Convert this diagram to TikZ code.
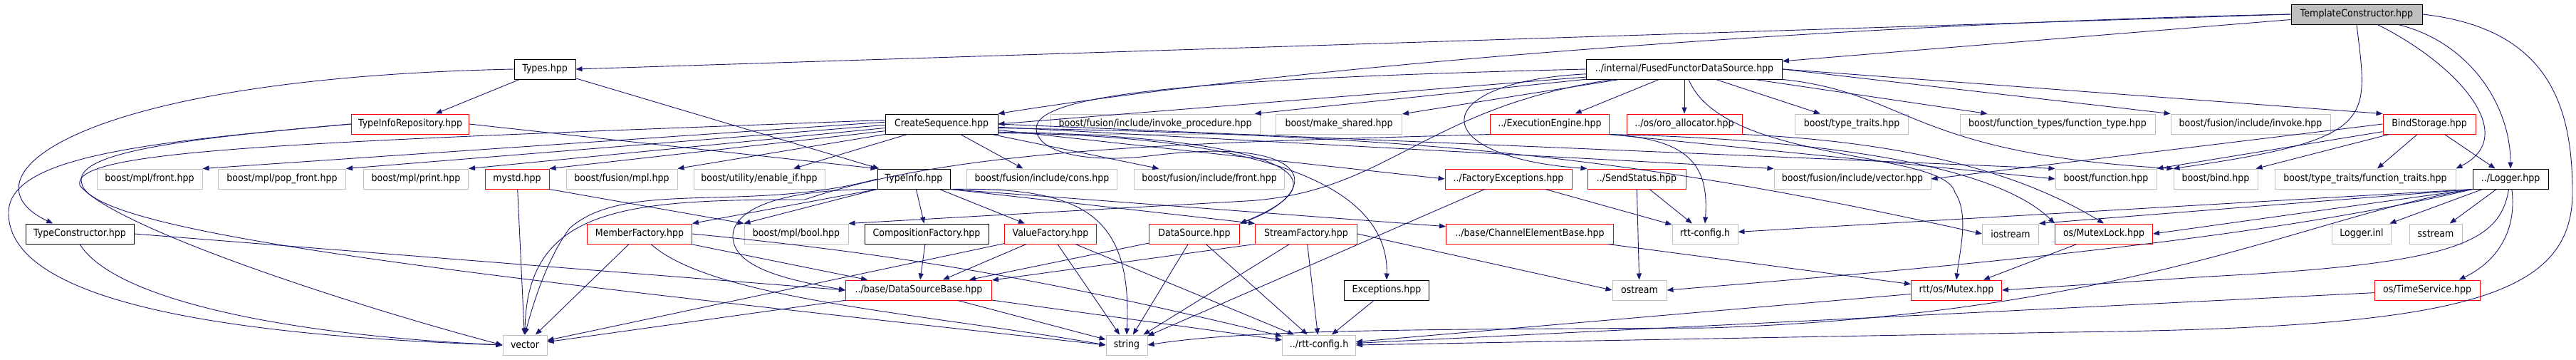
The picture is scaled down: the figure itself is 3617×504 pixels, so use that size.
\documentclass[tikz,border=0pt]{standalone}
\usepackage{fontspec}
\newfontfamily\graphfont{DejaVu Sans}[FakeStretch=0.9]
\usetikzlibrary{arrows.meta}
\definecolor{edgeblue}{HTML}{191970}
\definecolor{grey75}{HTML}{BFBFBF}
\tikzset{
    file/.style={rectangle,draw=black,fill=white,line width=1pt,minimum height=28pt,inner sep=0pt,font={\graphfont\fontsize{14pt}{16pt}\selectfont}},
    redfile/.style={file,draw=red},
    sysfile/.style={file,draw=grey75},
    rootfile/.style={file,fill=grey75},
    dedge/.style={-{Triangle[length=9pt,width=7pt]},draw=edgeblue,line width=0.9pt},
}
\begin{document}
\begin{tikzpicture}[x=1pt,y=-1pt]
    \useasboundingbox (0,0) rectangle (3617,504);
    \node[rootfile,minimum width=184pt] (tc) at (3309,20) {TemplateConstructor.hpp};
    \node[file,minimum width=86pt] (types) at (765,97) {Types.hpp};
    \node[file,minimum width=275pt] (fused) at (2365,97) {../internal/FusedFunctorDataSource.hpp};
    \node[redfile,minimum width=165pt] (tirepo) at (576,174) {TypeInfoRepository.hpp};
    \node[file,minimum width=158pt] (cseq) at (1322,174) {CreateSequence.hpp};
    \node[sysfile,minimum width=294pt] (invproc) at (1622,174) {boost/fusion/include/invoke\_procedure.hpp};
    \node[sysfile,minimum width=177pt] (mkshared) at (1880,174) {boost/make\_shared.hpp};
    \node[redfile,minimum width=167pt] (exeng) at (2176,174) {../ExecutionEngine.hpp};
    \node[redfile,minimum width=162pt] (oroalloc) at (2365,174) {../os/oro\_allocator.hpp};
    \node[sysfile,minimum width=159pt] (typetraits) at (2600,174) {boost/type\_traits.hpp};
    \node[sysfile,minimum width=274pt] (functype) at (2889,174) {boost/function\_types/function\_type.hpp};
    \node[sysfile,minimum width=224pt] (invoke) at (3160,174) {boost/fusion/include/invoke.hpp};
    \node[redfile,minimum width=130pt] (bindst) at (3411,174) {BindStorage.hpp};
    \node[sysfile,minimum width=148pt] (mplfront) at (210,251) {boost/mpl/front.hpp};
    \node[sysfile,minimum width=179pt] (popfront) at (396,251) {boost/mpl/pop\_front.hpp};
    \node[sysfile,minimum width=147pt] (mplprint) at (584,251) {boost/mpl/print.hpp};
    \node[redfile,minimum width=90pt] (mystd) at (726,251) {mystd.hpp};
    \node[sysfile,minimum width=156pt] (fusmpl) at (873,251) {boost/fusion/mpl.hpp};
    \node[sysfile,minimum width=184pt] (enableif) at (1066,251) {boost/utility/enable\_if.hpp};
    \node[file,minimum width=102pt] (typeinfo) at (1283,251) {TypeInfo.hpp};
    \node[sysfile,minimum width=211pt] (fcons) at (1463,251) {boost/fusion/include/cons.hpp};
    \node[sysfile,minimum width=211pt] (ffront) at (1698,251) {boost/fusion/include/front.hpp};
    \node[redfile,minimum width=178pt] (factexc) at (2118,251) {../FactoryExceptions.hpp};
    \node[redfile,minimum width=138pt] (sendst) at (2298,251) {../SendStatus.hpp};
    \node[sysfile,minimum width=220pt] (fvector) at (2601,251) {boost/fusion/include/vector.hpp};
    \node[sysfile,minimum width=142pt] (function) at (2957,251) {boost/function.hpp};
    \node[sysfile,minimum width=118pt] (bind) at (3111,251) {boost/bind.hpp};
    \node[sysfile,minimum width=254pt] (functraits) at (3321,251) {boost/type\_traits/function\_traits.hpp};
    \node[file,minimum width=106pt] (logger) at (3525,251) {../Logger.hpp};
    \node[file,minimum width=152pt] (typecons) at (112,328) {TypeConstructor.hpp};
    \node[redfile,minimum width=147pt] (memberf) at (898,328) {MemberFactory.hpp};
    \node[sysfile,minimum width=146pt] (mplbool) at (1118,328) {boost/mpl/bool.hpp};
    \node[file,minimum width=174pt] (compf) at (1301,328) {CompositionFactory.hpp};
    \node[redfile,minimum width=129pt] (valuef) at (1475,328) {ValueFactory.hpp};
    \node[redfile,minimum width=127pt] (datasrc) at (1677,328) {DataSource.hpp};
    \node[redfile,minimum width=143pt] (streamf) at (1834,328) {StreamFactory.hpp};
    \node[redfile,minimum width=235pt] (chanel) at (2148,328) {../base/ChannelElementBase.hpp};
    \node[sysfile,minimum width=92pt] (rttcfg) at (2394,328) {rtt-config.h};
    \node[sysfile,minimum width=79pt] (iostream) at (2823,328) {iostream};
    \node[redfile,minimum width=137pt] (mutexlock) at (2954,328) {os/MutexLock.hpp};
    \node[sysfile,minimum width=83pt] (loggerinl) at (3316,328) {Logger.inl};
    \node[sysfile,minimum width=74pt] (sstream) at (3420,328) {sstream};
    \node[redfile,minimum width=205pt] (dsbase) at (1290,407) {../base/DataSourceBase.hpp};
    \node[file,minimum width=119pt] (exceptions) at (1947,407) {Exceptions.hpp};
    \node[sysfile,minimum width=76pt] (ostream) at (2302,407) {ostream};
    \node[redfile,minimum width=127pt] (mutex) at (2747,407) {rtt/os/Mutex.hpp};
    \node[redfile,minimum width=148pt] (timesvc) at (3408,407) {os/TimeService.hpp};
    \node[sysfile,minimum width=62pt] (vector) at (737,484) {vector};
    \node[sysfile,minimum width=58pt] (string) at (1582,484) {string};
    \node[sysfile,minimum width=103pt] (rttcfgdot) at (1852,484) {../rtt-config.h};
    \draw[dedge] (tc.west) -- (types.east);
    \draw[dedge] (tc) -- (fused);
    \draw[dedge] (tc.west) .. controls (2700,30) and (1900,80) .. (cseq.north east);
    \draw[dedge] (tc.south) .. controls (3325,170) and (3340,195) .. (bind.north west);
    \draw[dedge] (tc) .. controls (3450,90) and (3540,190) .. (functraits.north east);
    \draw[dedge] (tc) .. controls (3470,60) and (3525,150) .. (logger.north);
    \draw[dedge] (tc.east) .. controls (3580,40) and (3612,150) .. (3612,270) .. controls (3612,420) and (3450,460) .. (2900,466) -- (rttcfgdot.east);
    \draw[dedge] (types) -- (tirepo);
    \draw[dedge] (types) -- (typeinfo);
    \draw[dedge] (types.west) .. controls (100,110) and (-60,250) .. (typecons.159);
    \draw[dedge] (tirepo.east) -- (typeinfo.north west);
    \draw[dedge] (tirepo.west) .. controls (200,200) and (10,220) .. (12,300) .. controls (14,420) and (300,470) .. (vector.west);
    \draw[dedge] (tirepo.west) .. controls (250,195) and (100,215) .. (115,258) .. controls (130,330) and (700,390) .. (string.west);
    \draw[dedge] (fused) -- (cseq.east);
    \draw[dedge] (fused) -- (invproc);
    \draw[dedge] (fused) -- (mkshared);
    \draw[dedge] (fused) -- (exeng);
    \draw[dedge] (fused) -- (oroalloc);
    \draw[dedge] (fused) -- (typetraits);
    \draw[dedge] (fused) -- (functype);
    \draw[dedge] (fused.east) -- (invoke.north west);
    \draw[dedge] (fused.east) -- (bindst.north west);
    \draw[dedge] (fused) .. controls (2680,130) and (2680,215) .. (bind.north west);
    \draw[dedge] (fused) .. controls (2420,230) and (2730,210) .. (2745,270) .. controls (2765,300) and (2752,350) .. (mutex.north);
    \draw[dedge] (fused) .. controls (2000,150) and (1950,270) .. (1750,282) -- (mplbool.north east);
    \draw[dedge] (fused) .. controls (2000,115) and (2000,220) .. (sendst.north west);
    \draw[dedge] (fused.west) .. controls (1700,110) and (1455,130) .. (1455,180) .. controls (1455,215) and (1530,230) .. (1620,218) .. controls (1850,190) and (1860,270) .. (datasrc.north east);
    \draw[dedge] (cseq.178) -- (mplfront.north east);
    \draw[dedge] (cseq.181) -- (popfront.north east);
    \draw[dedge] (cseq.184) -- (mplprint.north east);
    \draw[dedge] (cseq.187) -- (mystd.north east);
    \draw[dedge] (cseq.south west) -- (fusmpl.north east);
    \draw[dedge] (cseq) -- (enableif);
    \draw[dedge] (cseq) -- (fcons);
    \draw[dedge] (cseq) -- (ffront);
    \draw[dedge] (cseq.-6) -- (factexc.west);
    \draw[dedge] (cseq.-3) -- (fvector.north west);
    \draw[dedge] (cseq.east) -- (function.north west);
    \draw[dedge] (cseq.-4) .. controls (2000,190) and (2300,220) .. (iostream.west);
    \draw[dedge] (cseq.-8) .. controls (1750,190) and (1920,240) .. (datasrc.north east);
    \draw[dedge] (cseq.-9) .. controls (1800,190) and (1950,270) .. (exceptions.north);
    \draw[dedge] (cseq.176) .. controls (400,200) and (100,210) .. (112,260) .. controls (160,320) and (500,430) .. (vector.west);
    \draw[dedge] (exeng.south west) .. controls (1700,200) and (1350,205) .. (1130,280) .. controls (880,280) and (740,290) .. (vector.north);
    \draw[dedge] (exeng.south east) .. controls (2370,195) and (2400,230) .. (rttcfg.north);
    \draw[dedge] (exeng.south east) .. controls (2550,195) and (2800,230) .. (mutexlock.north west);
    \draw[dedge] (exeng.south east) -- (function.west);
    \draw[dedge] (oroalloc.south east) .. controls (2700,200) and (2850,250) .. (mutexlock.north);
    \draw[dedge] (bindst.west) -- (fvector.east);
    \draw[dedge] (bindst) -- (function.north east);
    \draw[dedge] (bindst) -- (bind);
    \draw[dedge] (bindst) -- (functraits);
    \draw[dedge] (bindst) -- (logger);
    \draw[dedge] (mystd) -- (vector);
    \draw[dedge] (mystd.south east) -- (mplbool.north west);
    \draw[dedge] (typeinfo.south west) -- (mplbool.north west);
    \draw[dedge] (typeinfo.south west) -- (memberf.north east);
    \draw[dedge] (typeinfo) -- (compf);
    \draw[dedge] (typeinfo) -- (valuef);
    \draw[dedge] (typeinfo.south east) -- (streamf.north west);
    \draw[dedge] (typeinfo.south east) -- (chanel.175);
    \draw[dedge] (typeinfo.south east) .. controls (1520,262) and (1590,300) .. (string.north);
    \draw[dedge] (typeinfo.west) .. controls (1050,300) and (880,250) .. (800,320) .. controls (770,360) and (750,420) .. (vector.north);
    \draw[dedge] (typeinfo.south west) .. controls (1080,265) and (1020,300) .. (1030,340) .. controls (1040,380) and (1120,395) .. (dsbase.west);
    \draw[dedge] (memberf) -- (dsbase);
    \draw[dedge] (memberf) -- (vector);
    \draw[dedge] (memberf) .. controls (1000,420) and (1300,440) .. (string.west);
    \draw[dedge] (memberf.east) .. controls (1300,360) and (1500,400) .. (rttcfgdot);
    \draw[dedge] (compf) -- (dsbase);
    \draw[dedge] (valuef) -- (dsbase);
    \draw[dedge] (valuef) -- (vector);
    \draw[dedge] (valuef) -- (string);
    \draw[dedge] (valuef) -- (rttcfgdot);
    \draw[dedge] (datasrc) -- (dsbase);
    \draw[dedge] (datasrc) -- (string);
    \draw[dedge] (datasrc) -- (rttcfgdot);
    \draw[dedge] (streamf.south west) -- (dsbase);
    \draw[dedge] (streamf) -- (string);
    \draw[dedge] (streamf) -- (rttcfgdot);
    \draw[dedge] (streamf.east) -- (ostream.west);
    \draw[dedge] (chanel) -- (mutex);
    \draw[dedge] (factexc) -- (rttcfg);
    \draw[dedge] (factexc) -- (string);
    \draw[dedge] (sendst) -- (rttcfg);
    \draw[dedge] (sendst) -- (ostream);
    \draw[dedge] (mutexlock) -- (mutex);
    \draw[dedge] (logger.south west) -- (mutexlock.east);
    \draw[dedge] (logger.south west) -- (iostream.north east);
    \draw[dedge] (logger.south west) -- (rttcfg);
    \draw[dedge] (logger) -- (loggerinl);
    \draw[dedge] (logger) -- (sstream);
    \draw[dedge] (logger.south west) .. controls (3200,330) and (2800,370) .. (ostream.east);
    \draw[dedge] (logger) .. controls (3510,340) and (3450,370) .. (3100,388) -- (mutex.east);
    \draw[dedge] (logger) .. controls (3535,330) and (3500,370) .. (timesvc.18);
    \draw[dedge] (logger.south west) .. controls (3250,300) and (3000,440) .. (2400,460) .. controls (2000,462) and (1750,462) .. (string.east);
    \draw[dedge] (timesvc) -- (rttcfgdot);
    \draw[dedge] (mutex) -- (rttcfgdot);
    \draw[dedge] (dsbase) -- (vector);
    \draw[dedge] (dsbase) -- (string);
    \draw[dedge] (dsbase) -- (rttcfgdot);
    \draw[dedge] (typecons.east) -- (dsbase.west);
    \draw[dedge] (typecons.south) .. controls (160,420) and (400,470) .. (vector.west);
    \draw[dedge] (exceptions) -- (rttcfgdot);
\end{tikzpicture}
\end{document}
